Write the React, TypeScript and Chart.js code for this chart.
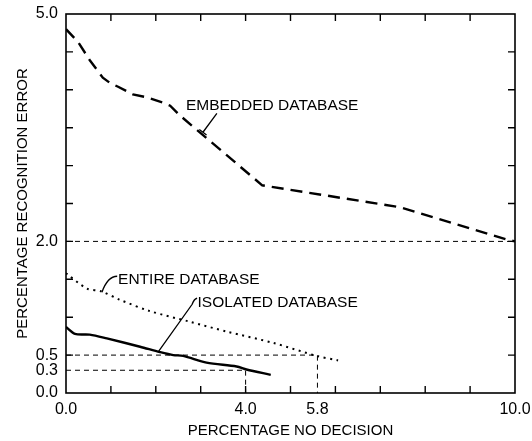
import React, { useEffect, useRef } from "react";
import { Chart, registerables } from "chart.js";

Chart.register(...registerables);

// ---- data ----
const embeddedX = [0, 0.27, 0.53, 0.82, 0.98, 1.16, 1.49, 1.8, 2.16, 2.32, 2.54, 4.37, 7.44, 9.85, 10.0];
const embeddedY = [4.8, 4.63, 4.39, 4.16, 4.09, 4.04, 3.94, 3.9, 3.83, 3.79, 3.66, 2.74, 2.45, 2.02, 2.0];

const entireX = [0, 0.46, 0.79, 1.2, 1.87, 2.76, 3.58, 4.62, 5.58, 6.06];
const entireY = [1.58, 1.38, 1.34, 1.23, 1.08, 0.94, 0.81, 0.66, 0.49, 0.43];

const isolatedX = [0, 0.2, 0.53, 0.91, 1.65, 2.09, 2.39, 2.61, 3.13, 3.8, 4.02, 4.56];
const isolatedY = [0.87, 0.78, 0.77, 0.72, 0.61, 0.54, 0.5, 0.49, 0.4, 0.35, 0.31, 0.24];

const yTickValues = [0, 0.3, 0.5, 2.0, 5.0];
const xTickValues = [0, 4.0, 5.6, 10.0];
const xTickLabels = ["0.0", "4.0", "5.8", "10.0"];
const yMinorTicks = [0.5, 1, 1.5, 2, 2.5, 3, 3.5, 4, 4.5];
const xMinorTicks = [1, 2, 3, 4, 5, 6, 7, 8, 9];

// reference (guide) lines: level, x extent
const guideLevels = [2.0, 0.5, 0.3];
const guideEnds = [10.0, 5.6, 4.0];

const FONT = "'Liberation Sans', Arial, Helvetica, sans-serif";

const toPts = (xs: number[], ys: number[]) => xs.map((x, i) => ({ x, y: ys[i] }));

const annotationPlugin = {
  id: "frameAndNotes",
  afterDatasetsDraw(chart: any) {
    const { ctx, chartArea } = chart;
    const xs = chart.scales.x;
    const ys = chart.scales.y;
    const X = (v: number) => xs.getPixelForValue(v);
    const Y = (v: number) => ys.getPixelForValue(v);
    const { left, right, top, bottom } = chartArea;
    ctx.save();
    ctx.strokeStyle = "#000";
    ctx.fillStyle = "#000";
    // frame
    ctx.lineWidth = 1.6;
    ctx.strokeRect(left, top, right - left, bottom - top);
    // minor ticks (inward)
    ctx.lineWidth = 1.4;
    ctx.beginPath();
    yMinorTicks.forEach((v) => {
      ctx.moveTo(left, Y(v));
      ctx.lineTo(left + 7, Y(v));
      ctx.moveTo(right, Y(v));
      ctx.lineTo(right - 7, Y(v));
    });
    xMinorTicks.forEach((v) => {
      ctx.moveTo(X(v), bottom);
      ctx.lineTo(X(v), bottom - 7);
      ctx.moveTo(X(v), top);
      ctx.lineTo(X(v), top + 7);
    });
    ctx.stroke();

    // labels
    ctx.font = `15.5px ${FONT}`;
    ctx.textBaseline = "middle";
    ctx.textAlign = "left";
    ctx.fillText("EMBEDDED DATABASE", X(2.67), Y(3.79));
    ctx.fillText("ENTIRE DATABASE", X(1.16), Y(1.5));
    ctx.fillText("ISOLATED DATABASE", X(2.93), Y(1.19));

    // leaders
    ctx.lineWidth = 1.3;
    // embedded: straight with a bar at the end
    const ax = X(3.36), ay = Y(3.69), bx = X(3.05), by = Y(3.44);
    ctx.beginPath();
    ctx.moveTo(ax, ay);
    ctx.lineTo(bx, by);
    const dx = bx - ax, dy = by - ay;
    const len = Math.hypot(dx, dy);
    const px = -dy / len, py = dx / len;
    ctx.moveTo(bx - px * 4.5, by - py * 4.5);
    ctx.lineTo(bx + px * 4.5, by + py * 4.5);
    ctx.stroke();
    // entire: hook
    ctx.beginPath();
    ctx.moveTo(X(1.14), Y(1.54));
    ctx.quadraticCurveTo(X(0.93), Y(1.54), X(0.8), Y(1.33));
    ctx.stroke();
    // isolated: small hook then straight
    ctx.beginPath();
    ctx.moveTo(X(2.92), Y(1.25));
    ctx.quadraticCurveTo(X(2.85), Y(1.24), X(2.81), Y(1.17));
    ctx.lineTo(X(2.05), Y(0.54));
    ctx.stroke();
    ctx.restore();
  },
};

export default function App() {
  const ref = useRef<HTMLCanvasElement | null>(null);
  useEffect(() => {
    if (!ref.current) return;
    const guideSets = guideLevels.map((lvl, i) => {
      const pts = [
        { x: 0, y: lvl },
        { x: guideEnds[i], y: lvl },
      ];
      if (guideEnds[i] < 10) pts.push({ x: guideEnds[i], y: 0 });
      return {
        label: `guide ${lvl}`,
        data: pts,
        showLine: true,
        borderColor: "#000",
        borderWidth: 1,
        borderDash: [5, 4],
        pointRadius: 0,
        fill: false,
      };
    });
    const chart = new Chart(ref.current, {
      type: "scatter",
      data: {
        datasets: [
          ...guideSets,
          {
            label: "EMBEDDED DATABASE",
            data: toPts(embeddedX, embeddedY),
            showLine: true,
            borderColor: "#000",
            borderWidth: 2.4,
            borderDash: [12, 7],
            pointRadius: 0,
            tension: 0,
          },
          {
            label: "ENTIRE DATABASE",
            data: toPts(entireX, entireY),
            showLine: true,
            borderColor: "#000",
            borderWidth: 2,
            borderDash: [2, 4.5],
            pointRadius: 0,
            tension: 0.3,
          },
          {
            label: "ISOLATED DATABASE",
            data: toPts(isolatedX, isolatedY),
            showLine: true,
            borderColor: "#000",
            borderWidth: 2.4,
            pointRadius: 0,
            tension: 0.3,
          },
        ],
      } as any,
      options: {
        animation: false,
        responsive: false,
        devicePixelRatio: 1,
        layout: { padding: { top: 14, right: 17, left: 0, bottom: 0 } },
        plugins: { legend: { display: false }, tooltip: { enabled: false } },
        scales: {
          x: {
            type: "linear",
            min: 0,
            max: 10,
            grid: { display: false, drawTicks: false },
            border: { display: false },
            afterBuildTicks: (s: any) => {
              s.ticks = xTickValues.map((value) => ({ value }));
            },
            afterFit: (s: any) => {
              s.height = 48;
              s.paddingLeft = 0;
              s.paddingRight = 0;
            },
            ticks: {
              autoSkip: false,
              maxRotation: 0,
              padding: 7,
              color: "#000",
              font: { family: FONT, size: 16 },
              callback: (_v: any, i: number) => xTickLabels[i],
            },
            title: {
              display: true,
              text: "PERCENTAGE NO DECISION",
              color: "#000",
              font: { family: FONT, size: 15 },
              padding: { top: 0, bottom: 1 },
            },
          },
          y: {
            type: "linear",
            min: 0,
            max: 5,
            grid: { display: false, drawTicks: false },
            border: { display: false },
            afterBuildTicks: (s: any) => {
              s.ticks = yTickValues.map((value) => ({ value }));
            },
            afterFit: (s: any) => {
              s.width = 66;
              s.paddingTop = 0;
              s.paddingBottom = 0;
            },
            ticks: {
              autoSkip: false,
              padding: 8,
              color: "#000",
              font: { family: FONT, size: 16 },
              callback: (v: any) => Number(v).toFixed(1),
            },
            title: {
              display: true,
              text: "PERCENTAGE RECOGNITION ERROR",
              color: "#000",
              font: { family: FONT, size: 15 },
              padding: { top: 14, bottom: 0 },
            },
          },
        },
      } as any,
      plugins: [annotationPlugin],
    });
    return () => chart.destroy();
  }, []);
  return (
    <div style={{ position: "absolute", left: 0, top: 0, width: 532, height: 441, background: "#fff" }}>
      <canvas ref={ref} width={532} height={441} style={{ width: 532, height: 441, display: "block" }} />
    </div>
  );
}
